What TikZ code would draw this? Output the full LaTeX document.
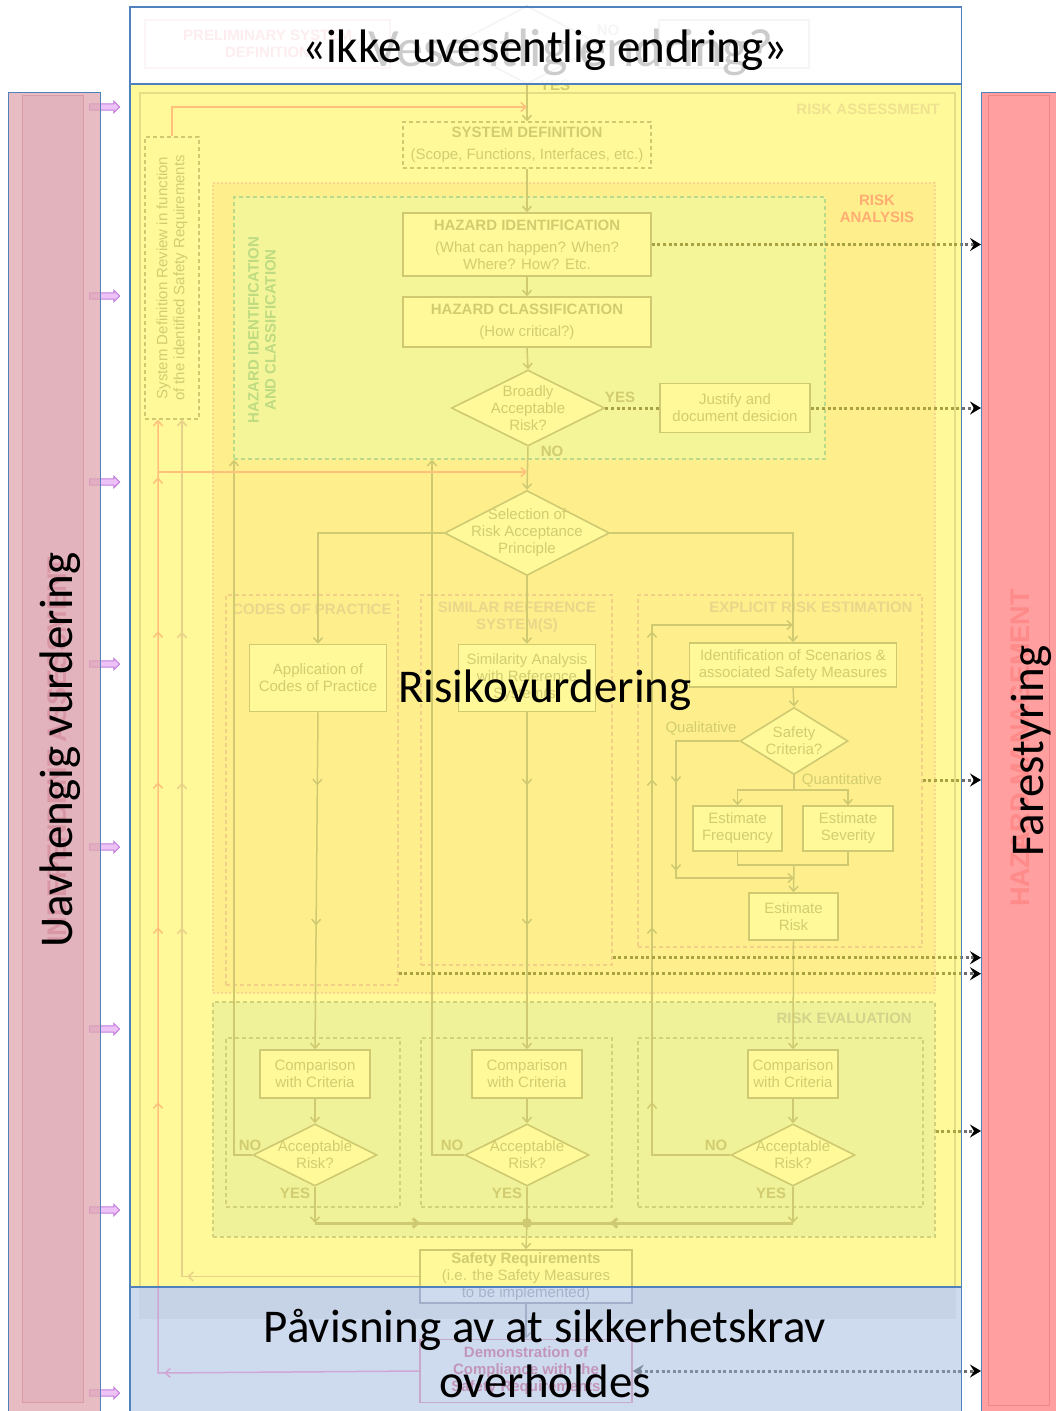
\documentclass[tikz,border=0pt]{standalone}
\usepackage{fontspec}
\setmainfont{Carlito}
\newfontfamily\chartfont{Liberation Sans}
\usetikzlibrary{arrows.meta}
\usetikzlibrary{shapes.geometric}
\usetikzlibrary{shapes.arrows}
\usetikzlibrary{decorations.markings}
\usetikzlibrary{calc}

\definecolor{frameblue}{HTML}{4F81BD}
\definecolor{chline}{HTML}{AFAFBE}
\definecolor{chtext}{HTML}{B4B4BC}
\definecolor{chdot}{HTML}{6E6E6E}
\definecolor{orline}{HTML}{FF9FD0}
\definecolor{tanline}{HTML}{D9BCE6}
\definecolor{asedge}{HTML}{D8D0E0}
\definecolor{asfill}{HTML}{FFFFFF}
\definecolor{anafill}{HTML}{FFEDEA}
\definecolor{anaedge}{HTML}{F5C0F0}
\definecolor{hazfill}{HTML}{EDF7FF}
\definecolor{hazedge}{HTML}{89CBE6}
\definecolor{hazlabel}{HTML}{93CDD9}
\definecolor{evfill}{HTML}{E6F3FF}
\definecolor{evedge}{HTML}{B8BCD0}
\definecolor{subedge}{HTML}{E8B8E0}
\definecolor{sublabel}{HTML}{DEC3E6}
\definecolor{asslabel}{HTML}{E5D7F0}
\definecolor{analabel}{HTML}{FF80C0}
\definecolor{evlabel}{HTML}{B8BEE8}
\definecolor{demored}{HTML}{E880A0}
\definecolor{prelimred}{HTML}{F07080}
\definecolor{pinkov}{HTML}{E0A8B0}
\definecolor{pinkin}{HTML}{E9D7E6}
\definecolor{pinkedge}{HTML}{C87896}
\definecolor{pinktext}{HTML}{C86482}
\definecolor{purpfill}{HTML}{EDC2F7}
\definecolor{purpedge}{HTML}{C47FDB}
\definecolor{redbar}{HTML}{FF9F9F}
\definecolor{rededge}{HTML}{F08585}
\definecolor{redtext}{HTML}{FF8A8A}
\definecolor{blueov}{HTML}{94B1DB}

\newcommand{\chartsz}{\chartfont\fontsize{15}{17}\selectfont}
\newcommand{\bigsz}{\fontsize{47}{52}\selectfont}

\tikzset{
  chartbox/.style={draw=chline, line width=1.6pt, fill=white, text=chtext,
    align=center, font=\chartsz, inner sep=0pt},
  chartdia/.style={diamond, draw=chline, line width=1.6pt, fill=white, inner sep=0pt},
  dtext/.style={text=chtext, align=center, font=\chartsz, inner sep=0pt},
  chartline/.style={color=chline, line width=1.5pt},
  chartarrow/.style={chartline, -{Straight Barb[length=5pt,width=9pt]}},
  midarrow/.style={postaction={decorate, decoration={markings,
    mark=at position #1 with {\arrow{Straight Barb[length=5pt,width=9pt]}}}}},
  region/.style={inner sep=0pt, line width=1.4pt, dash pattern=on 4pt off 3pt},
  rlabel/.style={font=\chartsz\bfseries, inner sep=0pt},
  ynlabel/.style={font=\chartsz\bfseries, text=chtext, inner sep=0pt},
  dotline/.style={color=chdot, line width=3pt, dash pattern=on 3pt off 2.6pt},
  toright/.style={dotline, -{Stealth[length=11pt,width=13pt,inset=4pt,black]}},
  purparr/.style={single arrow, draw=purpedge, fill=purpfill, line width=1pt,
    minimum height=30pt, inner sep=2.6pt, single arrow head extend=2.6pt},
  sheet/.style={inner sep=0pt, anchor=north west}
}

\begin{document}
\begin{tikzpicture}[x=1pt,y=-1pt]
\useasboundingbox (0,0) rectangle (1056,1411);
\fill[white] (0,0) rectangle (1056,1411);

% independent assessment bar
\node[sheet, draw=pinkedge, fill=pinkin, line width=1.2pt, minimum width=61pt, minimum height=1307pt] (indepin) at (22,95) {};
\node[rotate=90, text=pinktext, font=\chartfont\bfseries\fontsize{27}{30}\selectfont] (indeplab) at (57,750) {INDEPENDENT ASSESSMENT};
\foreach \y [count=\i] in {107,296,482,664,847,1029,1210,1393}
  \node[purparr] (pa\i) at (103,\y) {};
\node[sheet, draw=frameblue, fill=pinkov, fill opacity=0.75, line width=1.2pt, minimum width=92pt, minimum height=1330pt] (indep) at (8,92) {};

% hazard management bar
\node[sheet, draw=frameblue, fill=redbar, line width=1.2pt, minimum width=90pt, minimum height=1330pt] (hazmgmt) at (981,92) {};
\node[sheet, draw=rededge, line width=1.2pt, minimum width=61pt, minimum height=1310pt] (hazmgmtin) at (988,95) {};
\node[rotate=90, text=redtext, font=\chartfont\bfseries\fontsize{27}{30}\selectfont] (hmlab) at (1020,748) {HAZARD MANAGEMENT};

% top of the chart
\node[draw=prelimred!60, line width=1.5pt, text=prelimred, font=\chartsz\bfseries, align=center,
  minimum width=245pt, minimum height=48pt, inner sep=0pt] (prelim) at (267.5,44) {PRELIMINARY SYSTEM\\DEFINITION};
\node[chartdia, minimum width=150pt, minimum height=78pt] (signif) at (527,45) {};
\node[chartbox, minimum width=150pt, minimum height=48pt] (tbox) at (734,44) {};
\draw[chartline] (signif.east) -- (tbox.west);
\node[ynlabel] (signo) at (608,30) {NO};

% regions
\node[region, solid, draw=asedge, fill=asfill, minimum width=815pt, minimum height=1225pt] (riskass) at (547.5,705.5) {};
\fill[black!6] (riskass.south west) rectangle ($(riskass.south east)+(0,-31)$);
\node[rlabel, text=asslabel, anchor=east] (asslab) at (940,109) {RISK ASSESSMENT};
\node[region, draw=anaedge, fill=anafill, dash pattern=on 1.6pt off 2.4pt, minimum width=722pt, minimum height=810pt] (riskan) at (574,588) {};
\node[rlabel, text=analabel, align=center] (analab) at (877,209) {RISK\\ANALYSIS};
\node[region, draw=hazedge, fill=hazfill, minimum width=591pt, minimum height=262pt] (hzone) at (529.5,328) {};
\node[rlabel, text=hazlabel, rotate=90, align=center] (hzlab) at (262,330) {HAZARD IDENTIFICATION\\AND CLASSIFICATION};
\node[region, draw=subedge, minimum width=172pt, minimum height=390pt] (codes) at (312,790) {};
\node[rlabel, text=sublabel] (codeslab) at (312,609) {CODES OF PRACTICE};
\node[region, draw=subedge, minimum width=191pt, minimum height=370pt] (simref) at (516.5,780) {};
\node[rlabel, text=sublabel, align=center] (simlab) at (517,617) {SIMILAR REFERENCE\\SYSTEM(S)};
\node[region, draw=subedge, minimum width=284pt, minimum height=352pt] (explicit) at (780,771) {};
\node[rlabel, text=sublabel] (exlab) at (811,607) {EXPLICIT RISK ESTIMATION};
\node[region, draw=evedge, fill=evfill, minimum width=722pt, minimum height=235pt] (riskev) at (574,1119.5) {};
\node[rlabel, text=evlabel, anchor=east] (evlab) at (912,1018) {RISK EVALUATION};
\node[region, draw=evedge, minimum width=174pt, minimum height=169pt] (ev1) at (313,1122.5) {};
\node[region, draw=evedge, minimum width=191pt, minimum height=169pt] (ev2) at (516.5,1122.5) {};
\node[region, draw=evedge, minimum width=285pt, minimum height=169pt] (ev3) at (780.5,1122.5) {};

% boxes
\node[chartbox, region, draw=chline, fill=white, minimum width=54pt, minimum height=282pt,
  label={[dtext, rotate=90]center:System Definition Review in function\\of the identified Safety Requirements}] (sdr) at (172,278) {};
\node[chartbox, region, draw=chline, minimum width=248pt, minimum height=46pt] (sysdef) at (527,145)
  {{\bfseries SYSTEM DEFINITION}\\[5pt](Scope, Functions, Interfaces, etc.)};
\node[chartbox, minimum width=248pt, minimum height=63pt] (hazid) at (527,244.5)
  {{\bfseries HAZARD IDENTIFICATION}\\[5pt](What can happen? When?\\Where? How? Etc.};
\node[chartbox, minimum width=248pt, minimum height=50pt] (hazcl) at (527,322)
  {{\bfseries HAZARD CLASSIFICATION}\\[5pt](How critical?)};
\node[chartdia, minimum width=153pt, minimum height=76pt,
  label={[dtext]center:Broadly\\Acceptable\\Risk?}] (broad) at (528,408) {};
\node[chartbox, minimum width=150pt, minimum height=49pt] (justify) at (735,408) {Justify and\\document desicion};
\node[chartdia, minimum width=165pt, minimum height=85pt,
  label={[dtext]center:Selection of\\Risk Acceptance\\Principle}] (sel) at (527,533) {};
\node[chartbox, minimum width=137pt, minimum height=67pt] (app) at (318,678) {Application of\\Codes of Practice};
\node[chartbox, minimum width=137pt, minimum height=67pt] (sim) at (527,678) {Similarity Analysis\\with Reference\\System(s)};
\node[chartbox, minimum width=207pt, minimum height=44pt] (ident) at (793,665) {Identification of Scenarios \&\\associated Safety Measures};
\node[chartdia, minimum width=108pt, minimum height=67pt,
  label={[dtext]center:Safety\\Criteria?}] (safety) at (794,741) {};
\node[chartbox, minimum width=89pt, minimum height=45pt] (freq) at (737.5,828.5) {Estimate\\Frequency};
\node[chartbox, minimum width=90pt, minimum height=45pt] (sev) at (848,828.5) {Estimate\\Severity};
\node[chartbox, minimum width=89pt, minimum height=47pt] (erisk) at (793.5,916.5) {Estimate\\Risk};
\node[chartbox, minimum width=110pt, minimum height=48pt] (cmp1) at (315,1074) {Comparison\\with Criteria};
\node[chartbox, minimum width=110pt, minimum height=48pt] (cmp2) at (527,1074) {Comparison\\with Criteria};
\node[chartbox, minimum width=90pt, minimum height=48pt] (cmp3) at (793,1074) {Comparison\\with Criteria};
\node[chartdia, minimum width=124pt, minimum height=62pt,
  label={[dtext]center:Acceptable\\Risk?}] (acc1) at (315,1155) {};
\node[chartdia, minimum width=124pt, minimum height=62pt,
  label={[dtext]center:Acceptable\\Risk?}] (acc2) at (527,1155) {};
\node[chartdia, minimum width=124pt, minimum height=62pt,
  label={[dtext]center:Acceptable\\Risk?}] (acc3) at (793,1155) {};
\node[chartbox, minimum width=212pt, minimum height=53pt] (safreq) at (526,1276.5)
  {{\bfseries Safety Requirements}\\(i.e. the Safety Measures\\to be implemented)};
\node[chartbox, draw=demored!70, text=demored, font=\chartsz\bfseries, minimum width=212pt, minimum height=63pt] (demo) at (526,1371)
  {Demonstration of\\Compliance with the\\Safety Requirements};

% yes / no
\node[ynlabel] (topyes) at (555,85) {YES};
\node[ynlabel] (broadyes) at (620,397) {YES};
\node[ynlabel] (broadno) at (552,451) {NO};
\node[dtext] (qual) at (701,728) {Qualitative};
\node[dtext] (quant) at (842,780) {Quantitative};
\foreach \n/\x in {1/250,2/452,3/716}
  \node[ynlabel] (no\n) at (\x,1145) {NO};
\foreach \n/\x in {1/295,2/507,3/771}
  \node[ynlabel] (yes\n) at (\x,1193) {YES};

% connectors
\coordinate (sdtop) at (527,107);
\coordinate (selin) at (527,472);
\coordinate (qlcorner) at (676,878);
\coordinate (qljoin) at (794,878);
\coordinate (qsplit) at (794,790);
\coordinate (fsjoin) at (794,865);
\coordinate (back1) at (234,1155);
\coordinate (back2) at (432,1155);
\coordinate (back3) at (652,1155);
\coordinate (exloop) at (652,625);
\coordinate (exin) at (793,625);
\coordinate (evl) at (315,1223);
\coordinate (evj) at (527,1223);
\coordinate (evr) at (793,1223);
\coordinate (orcorner) at (158,1373);
\coordinate (orsplit) at (158,472);
\coordinate (tancorner) at (182,1276.5);

\draw[chartarrow] (signif.south) -- (sysdef.north);
\draw[chartarrow, color=orline] (sdr.north) |- (sdtop);
\draw[chartarrow] (sysdef.south) -- (hazid.north);
\draw[chartarrow] (hazid.south) -- (hazcl.north);
\draw[chartarrow] (hazcl.south) -- (broad.north);
\draw[dotline] (broad.east) -- (justify.west);
\draw[chartarrow] (broad.south) -- (sel.north);
\draw[chartarrow] (sel.west) -| (app.north);
\draw[chartarrow] (sel.east) -| (ident.north);
\draw[chartarrow] (sel.south) -- (sim.north);
\draw[chartarrow, midarrow=73pt, midarrow=213pt] (app.south) -- (cmp1.north);
\draw[chartarrow, midarrow=73pt, midarrow=213pt] (sim.south) -- (cmp2.north);
\draw[chartarrow] (ident.south) -- (safety.north);
\draw[chartarrow, midarrow=105pt, midarrow=193pt] (safety.west) -| (qlcorner) -- (qljoin);
\draw[chartline] (safety.south) -- (qsplit);
\draw[chartarrow] (qsplit) -| (freq.north);
\draw[chartarrow] (qsplit) -| (sev.north);
\draw[chartline] (freq.south) |- (fsjoin) -| (sev.south);
\draw[chartarrow] (fsjoin) -- (erisk.north);
\draw[chartarrow] (erisk.south) -- (cmp3.north);
\draw[chartarrow] (cmp1.south) -- (acc1.north);
\draw[chartarrow] (cmp2.south) -- (acc2.north);
\draw[chartarrow] (cmp3.south) -- (acc3.north);
\draw[chartarrow] (acc1.west) -- (back1) -- (back1 |- hzone.south);
\draw[chartarrow] (acc2.west) -- (back2) -- (back2 |- hzone.south);
\draw[chartarrow, midarrow=131pt, midarrow=306pt, midarrow=454pt, midarrow=602pt] (acc3.west) -- (back3) -- (exloop) -- (exin);
\draw[chartarrow] (acc1.south) -- (evl);
\draw[chartarrow] (acc3.south) -- (evr);
\draw[chartline] (acc2.south) -- (evj);
\draw[chartline, line width=3pt, midarrow=105pt] (evl) -- (evj);
\draw[chartline, line width=3pt, midarrow=183pt] (evr) -- (evj);
\fill[chline] (evj) circle (5pt);
\draw[chartarrow] (evj) -- (safreq.north);
\draw[chartarrow] (safreq.south) -- (demo.north);
\draw[chartarrow, color=tanline, midarrow=232pt, midarrow=586pt, midarrow=731pt, midarrow=882pt]
  (safreq.west) -- (tancorner) -- (tancorner |- sdr.south);
\draw[chartarrow, color=orline, midarrow=255pt, midarrow=532pt, midarrow=707pt, midarrow=852pt, midarrow=1003pt, midarrow=1157pt]
  (demo.west) -- (orcorner) -- (orcorner |- sdr.south);
\draw[chartarrow, color=orline] (orsplit) -- (selin);

% to hazard management
\coordinate (exout) at ($(explicit.east)+(0,9)$);
\coordinate (simout) at ($(simref.south east)+(0,-8)$);
\coordinate (codesout) at ($(codes.south east)+(0,-12)$);
\coordinate (evout) at ($(riskev.east)+(0,11.5)$);
\draw[toright] (hazid.east) -- (hazid.east -| hazmgmt.west);
\draw[toright] (justify.east) -- (justify.east -| hazmgmt.west);
\draw[toright] (exout) -- (exout -| hazmgmt.west);
\draw[toright] (simout) -- (simout -| hazmgmt.west);
\draw[toright] (codesout) -- (codesout -| hazmgmt.west);
\draw[toright] (evout) -- (evout -| hazmgmt.west);
\draw[dotline, {Stealth[length=11pt,width=13pt,inset=4pt]}-{Stealth[length=11pt,width=13pt,inset=4pt,black]}] (demo.east) -- (demo.east -| hazmgmt.west);

% overlays
\node[sheet, fill=white, fill opacity=0.88, minimum width=831pt, minimum height=77pt] (topbox) at (130,7) {};
\node[sheet, fill=yellow, fill opacity=0.4, minimum width=831pt, minimum height=1203pt] (riskbox) at (130,84) {};
\node[sheet, fill=blueov, fill opacity=0.45, minimum width=831pt, minimum height=130pt] (proofbox) at (130,1287) {};
\draw[frameblue, line width=1.5pt] (topbox.north west) rectangle (topbox.south east);
\draw[frameblue, line width=1.5pt] (riskbox.north west) rectangle (riskbox.south east);
\draw[frameblue, line width=1.5pt] (proofbox.north west) rectangle (proofbox.south east);

% overlay texts
\node[anchor=base, text=black!20, font=\fontsize{54}{60}\selectfont] (faintq) at (571,66) {Vesentlig endring?};
\node[anchor=base, font=\bigsz] (change) at (545,62) {«ikke uvesentlig endring»};
\node[anchor=base, font=\bigsz] (assess) at (545,702) {Risikovurdering};
\node[anchor=base, font=\bigsz] (proof1) at (545,1342) {Påvisning av at sikkerhetskrav};
\node[anchor=base, font=\bigsz] (proof2) at (545,1397) {overholdes};
\node[anchor=base, rotate=90, font=\bigsz] (indeptext) at (72,750) {Uavhengig vurdering};
\node[anchor=base, rotate=90, font=\bigsz] (hmtext) at (1043,751) {Farestyring};
\end{tikzpicture}
\end{document}
